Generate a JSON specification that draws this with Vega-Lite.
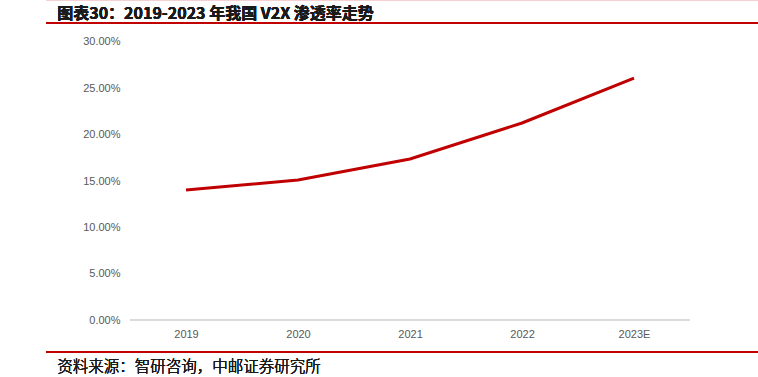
{
  "$schema": "https://vega.github.io/schema/vega-lite/v6.json",
  "width": 712,
  "height": 354,
  "autosize": {"type": "none"},
  "padding": {"left": 46, "top": 23, "right": 0, "bottom": 0},
  "background": "white",
  "config": {"view": {"stroke": null}, "font": "Liberation Sans"},
  "data": {
    "values": [
      {"year": 2019, "rate": 0.1403},
      {"year": 2020, "rate": 0.151},
      {"year": 2021, "rate": 0.1737},
      {"year": 2022, "rate": 0.2126},
      {"year": 2023, "rate": 0.261}
    ]
  },
  "layer": [
    {
      "mark": {"type": "rule", "color": "#c00000", "strokeWidth": 1.5},
      "encoding": {"y": {"datum": 0.3205, "type": "quantitative"}}
    },
    {
      "mark": {"type": "rule", "color": "#f4d0d2", "strokeWidth": 2},
      "encoding": {"y": {"datum": 0.3453, "type": "quantitative"}}
    },
    {
      "mark": {"type": "rule", "color": "#c00000", "strokeWidth": 1.5},
      "encoding": {"y": {"datum": -0.0345, "type": "quantitative"}}
    },
    {
      "mark": {"type": "rule", "color": "#d9d9d9", "strokeWidth": 1},
      "encoding": {
        "x": {"datum": 2018.5, "type": "quantitative"},
        "x2": {"datum": 2023.5},
        "y": {"datum": 0, "type": "quantitative"}
      }
    },
    {
      "mark": {"type": "text", "align": "left", "baseline": "middle", "font": "Noto Sans CJK SC", "fontSize": 16, "fontWeight": "bold", "color": "#1a1a1a", "text": "图表30：2019-2023 年我国 V2X 渗透率走势"},
      "encoding": {
        "x": {"datum": 2017.85, "type": "quantitative"},
        "y": {"datum": 0.3302, "type": "quantitative"}
      }
    },
    {
      "mark": {"type": "text", "align": "left", "baseline": "middle", "font": "Noto Sans CJK SC", "fontSize": 15.5, "fontWeight": 300, "color": "#1a1a1a", "text": "资料来源：智研咨询，中邮证券研究所"},
      "encoding": {
        "x": {"datum": 2017.85, "type": "quantitative"},
        "y": {"datum": -0.0507, "type": "quantitative"}
      }
    },
    {
      "mark": {"type": "line", "color": "#c00000", "strokeWidth": 3},
      "encoding": {
        "x": {
          "field": "year",
          "type": "quantitative",
          "scale": {"domain": [2017.75, 2024.107], "nice": false, "zero": false},
          "axis": {
            "values": [2019, 2020, 2021, 2022, 2023],
            "labelExpr": "datum.value == 2023 ? '2023E' : format(datum.value, 'd')",
            "domain": false,
            "ticks": false,
            "grid": false,
            "offset": -57,
            "labelPadding": 8,
            "labelFontSize": 11,
            "labelColor": "#595959",
            "labelFont": "Liberation Sans",
            "title": null
          }
        },
        "y": {
          "field": "rate",
          "type": "quantitative",
          "scale": {"domain": [-0.0615, 0.3205], "nice": false, "zero": false},
          "axis": {
            "values": [0, 0.05, 0.1, 0.15, 0.2, 0.25, 0.3],
            "format": ".2%",
            "domain": false,
            "ticks": false,
            "grid": false,
            "offset": -75,
            "labelPadding": 1,
            "labelFontSize": 11,
            "labelColor": "#595959",
            "labelFont": "Liberation Sans",
            "title": null
          }
        }
      }
    }
  ]
}
